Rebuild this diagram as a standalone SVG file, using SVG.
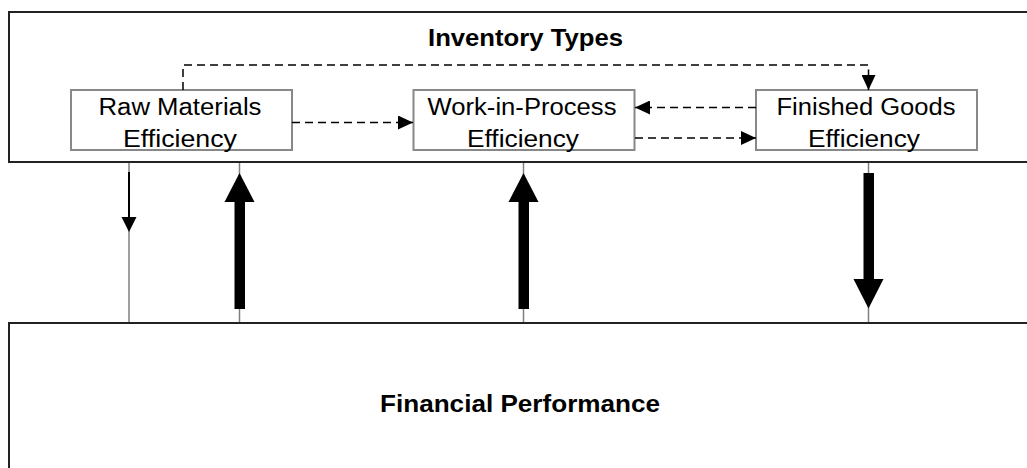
<svg xmlns="http://www.w3.org/2000/svg" width="1027" height="468" viewBox="0 0 1027 468">
<style>
.frame{fill:#fff;stroke:#222;stroke-width:2}
.node{fill:#fff;stroke:#888;stroke-width:2}
.t{font-family:"Liberation Sans",Arial,sans-serif;font-size:23px;fill:#000;text-anchor:middle}
.b{font-weight:bold}
.dash{fill:none;stroke:#000;stroke-width:1.5;stroke-dasharray:8 5}
.gray{stroke:#808080;stroke-width:1.5}
.blk{fill:#000}
</style>
<defs>
<marker id="ah" markerUnits="userSpaceOnUse" markerWidth="15" markerHeight="14" refX="15" refY="7" orient="auto">
<path d="M0,0 L15,7 L0,14 z" fill="#000"/>
</marker>
</defs>
<rect x="0" y="0" width="1027" height="468" fill="#fff"/>
<g id="inventory-types">
<rect class="frame" x="9" y="12" width="1030" height="150"/>
<text class="t b" x="525.5" y="45.7" textLength="195" lengthAdjust="spacingAndGlyphs">Inventory Types</text>
</g>
<g id="financial-performance">
<rect class="frame" x="9" y="323" width="1030" height="160"/>
<text class="t b" x="520" y="411.7" textLength="280" lengthAdjust="spacingAndGlyphs">Financial Performance</text>
</g>
<g id="raw-materials">
<rect class="node" x="71" y="90" width="221" height="60"/>
<text class="t" x="180" y="114.5" textLength="163" lengthAdjust="spacingAndGlyphs">Raw Materials</text>
<text class="t" x="180" y="146.5" textLength="114" lengthAdjust="spacingAndGlyphs">Efficiency</text>
</g>
<g id="work-in-process">
<rect class="node" x="413.5" y="90" width="221" height="60"/>
<text class="t" x="522" y="114.5" textLength="189" lengthAdjust="spacingAndGlyphs">Work-in-Process</text>
<text class="t" x="523" y="146.5" textLength="112" lengthAdjust="spacingAndGlyphs">Efficiency</text>
</g>
<g id="finished-goods">
<rect class="node" x="756" y="90" width="221" height="60"/>
<text class="t" x="866" y="114.5" textLength="179" lengthAdjust="spacingAndGlyphs">Finished Goods</text>
<text class="t" x="864" y="146.5" textLength="112" lengthAdjust="spacingAndGlyphs">Efficiency</text>
</g>
<g id="connectors">
<path class="dash" d="M183,90 V65 H868.5 V90" marker-end="url(#ah)"/>
<path class="dash" d="M292,122.5 H413" marker-end="url(#ah)"/>
<path class="dash" d="M756,107.5 H635" marker-end="url(#ah)"/>
<path class="dash" d="M635,138 H756" marker-end="url(#ah)"/>
<line class="gray" x1="129" y1="163" x2="129" y2="322"/>
<line class="gray" x1="239.5" y1="163" x2="239.5" y2="322"/>
<line class="gray" x1="523.5" y1="163" x2="523.5" y2="322"/>
<line class="gray" x1="868.5" y1="163" x2="868.5" y2="322"/>
<line x1="129" y1="172" x2="129" y2="220" stroke="#000" stroke-width="2"/>
<polygon class="blk" points="121.5,217 136.5,217 129,232"/>
<rect class="blk" x="234.5" y="201" width="10.5" height="108"/>
<polygon class="blk" points="224.5,202 254.5,202 239.5,173"/>
<rect class="blk" x="518.5" y="201" width="10.5" height="108"/>
<polygon class="blk" points="508.5,202 538.5,202 523.5,173"/>
<rect class="blk" x="863.5" y="173" width="10.5" height="107"/>
<polygon class="blk" points="853.5,279 883.5,279 868.5,308.5"/>
</g>
</svg>
